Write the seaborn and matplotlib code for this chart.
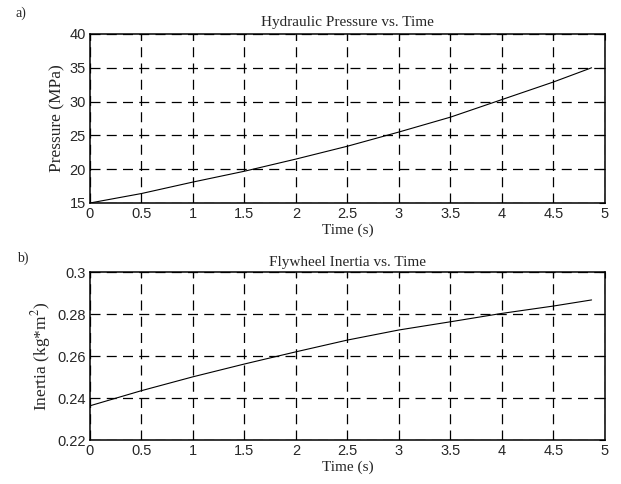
import numpy as np
import pandas as pd
import matplotlib
matplotlib.use("Agg")
import matplotlib.pyplot as plt
import seaborn as sns

# values
time_s = [0.0, 0.5, 1.0, 1.5, 2.0, 2.5, 3.0, 3.5, 4.0, 4.5, 4.87]
pressure_mpa = [15.0, 16.4, 18.1, 19.7, 21.5, 23.4, 25.5, 27.7, 30.3, 32.9, 35.0]
inertia_kgm2 = [0.2363, 0.2435, 0.2501, 0.2562, 0.2620, 0.2676, 0.2724,
                0.2763, 0.2803, 0.2838, 0.2867]

x_ticks = [0, 0.5, 1, 1.5, 2, 2.5, 3, 3.5, 4, 4.5, 5]
x_ticklabels = ["0", "0.5", "1", "1.5", "2", "2.5", "3", "3.5", "4", "4.5", "5"]
p_ticks = [15, 20, 25, 30, 35, 40]
i_ticks = [0.22, 0.24, 0.26, 0.28, 0.3]
i_ticklabels = ["0.22", "0.24", "0.26", "0.28", "0.3"]

df = pd.DataFrame({"t": time_s, "p": pressure_mpa, "i": inertia_kgm2})

sns.set_style("white")
plt.rcParams["mathtext.fontset"] = "stix"

SERIF = "Liberation Serif"
SANS = "Liberation Sans"

fig = plt.figure(figsize=(6.21, 4.84), dpi=100)
fig.patch.set_facecolor("white")


def style_ax(ax, yticks, yticklabels, ylim):
    ax.set_xlim(0, 5)
    ax.set_ylim(*ylim)
    ax.set_xticks(x_ticks)
    ax.set_xticklabels(x_ticklabels, fontfamily=SANS, fontsize=10.5)
    ax.set_yticks(yticks)
    ax.set_yticklabels(yticklabels, fontfamily=SANS, fontsize=10.5)
    ax.tick_params(direction="in", length=4, width=0.8, color="black",
                   top=True, right=True, pad=3)
    ax.grid(True, color="black", linestyle=(0, (8, 5)), linewidth=0.9)
    for sp in ax.spines.values():
        sp.set_color("black")
        sp.set_linewidth(1.1)
    ax.set_xlabel("Time (s)", fontfamily=SERIF, fontsize=11, labelpad=2)


# a) pressure
ax1 = fig.add_axes([0.1449, 0.5806, 0.8293, 0.3492])
sns.lineplot(data=df, x="t", y="p", ax=ax1, color="black", linewidth=0.8)
style_ax(ax1, p_ticks, [str(v) for v in p_ticks], (15, 40))
ax1.set_ylabel("Pressure (MPa)", fontfamily=SERIF, fontsize=12.5, labelpad=3)
ax1.set_title("Hydraulic Pressure vs. Time", fontfamily=SERIF, fontsize=11, pad=6)
fig.text(0.025, 0.965, "a)", fontfamily=SERIF, fontsize=10)

# b) inertia
ax2 = fig.add_axes([0.1449, 0.0909, 0.8293, 0.3471])
sns.lineplot(data=df, x="t", y="i", ax=ax2, color="black", linewidth=0.8)
style_ax(ax2, i_ticks, i_ticklabels, (0.22, 0.3))
ax2.set_ylabel("Inertia (kg*m$^{2}$)", fontfamily=SERIF, fontsize=12.5, labelpad=3)
ax2.set_title("Flywheel Inertia vs. Time", fontfamily=SERIF, fontsize=11, pad=4)
fig.text(0.028, 0.46, "b)", fontfamily=SERIF, fontsize=10)

fig.savefig("out.png", dpi=100)
